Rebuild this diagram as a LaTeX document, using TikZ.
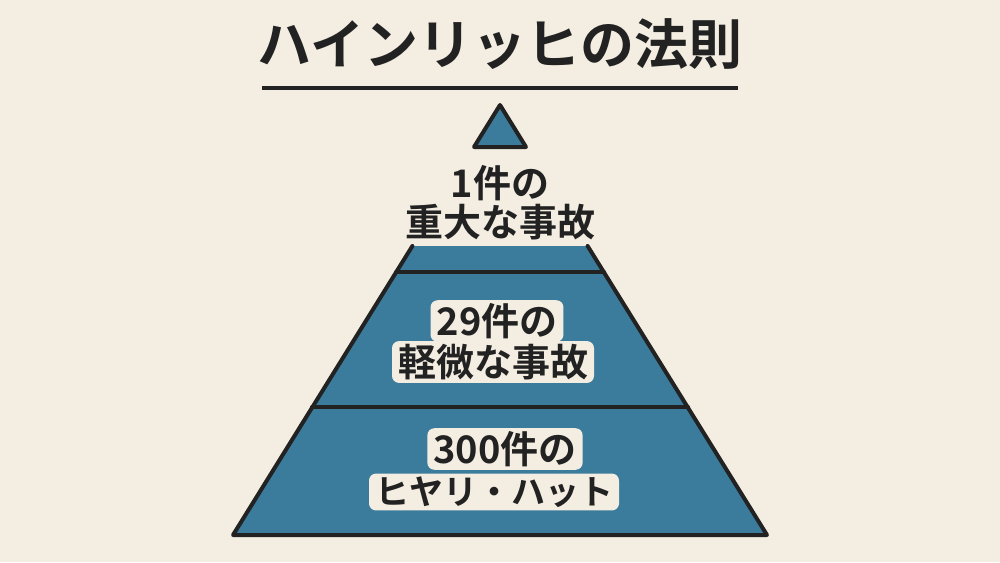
\documentclass[tikz,border=0pt]{standalone}
\usepackage{fontspec}
\newfontfamily\jp{Noto Sans CJK JP Bold}
\definecolor{bg}{HTML}{F4EEE2}
\definecolor{pyr}{HTML}{3B7B9C}
\definecolor{ink}{HTML}{222222}
\begin{document}
\begin{tikzpicture}[x=1pt,y=-1pt,
  edge/.style={draw=ink,line width=4pt,line cap=round,line join=round},
  lbl/.style={fill=bg,rounded corners=7pt,inner xsep=6pt,inner ysep=3pt,text=ink,font=\jp\fontsize{38}{40}\selectfont}]
\fill[bg] (0,0) rectangle (1000,562);
\useasboundingbox (0,0) rectangle (1000,562);
\node[text=ink,font=\jp\fontsize{54}{58}\selectfont] (title) at (500,44) {ハインリッヒの法則};
\draw[ink,line width=4pt] (262,88) -- (738,88);
\coordinate (A) at (500,105);
\coordinate (BL) at (233,535);
\coordinate (BR) at (767,535);
\fill[pyr] (A) -- (BR) -- (BL) -- cycle;
\fill[bg] (380,148) rectangle (620,246);
\draw[edge] (474,147) -- (A) -- (526,147) -- cycle;
\draw[edge] (412.4,246) -- (BL) -- (BR) -- (587.6,246);
\draw[edge] (396,272) -- (604,272);
\draw[edge] (312,407) -- (688,407);
\node[text=ink,font=\jp\fontsize{38}{40}\selectfont] (t1a) at (500,183) {1件の};
\node[text=ink,font=\jp\fontsize{38}{40}\selectfont] (t1b) at (500,222) {重大な事故};
\node[lbl] (t2a) at (497,321) {29件の};
\node[lbl] (t2b) at (493,362) {軽微な事故};
\node[lbl] (t3a) at (505,449) {300件の};
\node[lbl,font=\jp\fontsize{34}{38}\selectfont] (t3b) at (494,492) {ヒヤリ・ハット};
\end{tikzpicture}
\end{document}
